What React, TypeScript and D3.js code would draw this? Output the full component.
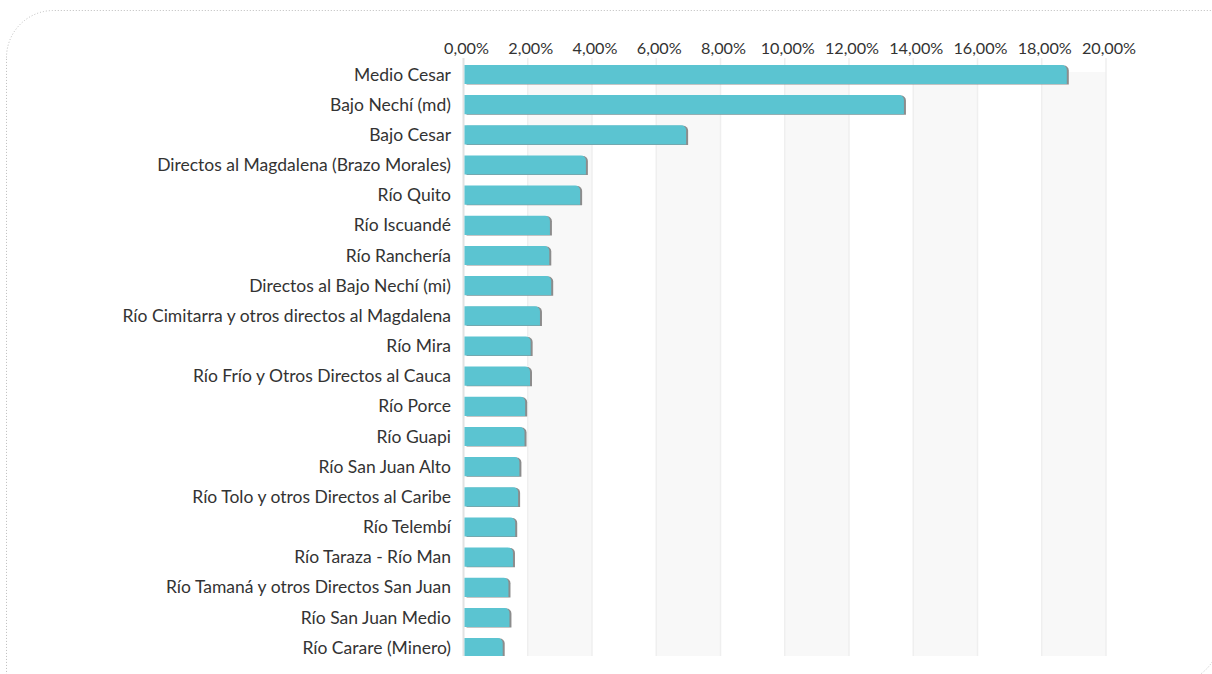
import React from "react";
import * as d3 from "d3";

const categories = [
  "Medio Cesar",
  "Bajo Nechí (md)",
  "Bajo Cesar",
  "Directos al Magdalena (Brazo Morales)",
  "Río Quito",
  "Río Iscuandé",
  "Río Ranchería",
  "Directos al Bajo Nechí (mi)",
  "Río Cimitarra y otros directos al Magdalena",
  "Río Mira",
  "Río Frío y Otros Directos al Cauca",
  "Río Porce",
  "Río Guapi",
  "Río San Juan Alto",
  "Río Tolo y otros Directos al Caribe",
  "Río Telembí",
  "Río Taraza - Río Man",
  "Río Tamaná y otros Directos San Juan",
  "Río San Juan Medio",
  "Río Carare (Minero)",
];

const values = [
  18.78, 13.71, 6.93, 3.81, 3.63, 2.69, 2.67, 2.73, 2.38, 2.09, 2.07, 1.92,
  1.9, 1.74, 1.7, 1.61, 1.54, 1.4, 1.43, 1.22,
];

const ticks = [0, 2, 4, 6, 8, 10, 12, 14, 16, 18, 20];

const W = 1212;
const H = 674;

export default function App() {
  const x = d3.scaleLinear().domain([0, 20]).range([463.5, 1106]);
  const y = d3
    .scaleBand<string>()
    .domain(categories)
    .range([59.5, 662.7])
    .paddingInner(0.365)
    .paddingOuter(0.18);
  const plotTop = 58;
  const plotBottom = 656;
  const fmt = (v: number) => v.toFixed(2).replace(".", ",") + "%";
  const font = "Lato, 'Open Sans', sans-serif";

  const bx = 6.5,
    by = 10.5,
    bR = 1220,
    bB = 683,
    r = 47;
  const borderPath = `M${bx},${by + r} A${r},${r} 0 0 1 ${bx + r},${by} L${bR},${by} L${bR},${bB - r} A${r},${r} 0 0 1 ${bR - r},${bB} L${bx},${bB} Z`;

  const bands = ticks.slice(0, -1).filter((_, i) => i % 2 === 1);

  return (
    <div style={{ position: "fixed", left: 0, top: 0, width: W, height: H }}>
      <svg width={W} height={H} style={{ display: "block" }}>
        <defs>
          <clipPath id="plotClip">
            <rect x={0} y={plotTop} width={W} height={plotBottom - plotTop} />
          </clipPath>
        </defs>
        <rect x={0} y={0} width={W} height={H} fill="#fff" />
        <path
          d={borderPath}
          fill="none"
          stroke="#bdbdbd"
          strokeWidth={1}
          strokeDasharray="1,2"
        />
        <g clipPath="url(#plotClip)">
          {bands.map((t) => (
            <rect
              key={"b" + t}
              x={x(t)}
              y={72}
              width={x(t + 2) - x(t)}
              height={plotBottom - 72}
              fill="#f8f8f8"
            />
          ))}
          {ticks.map((t) => (
            <line
              key={"g" + t}
              x1={x(t)}
              x2={x(t)}
              y1={plotTop}
              y2={plotBottom}
              stroke={t === 0 ? "#e2e2e2" : "#efefef"}
              strokeWidth={t === 0 ? 2 : 1.5}
            />
          ))}
          {categories.map((c, i) => {
            const y0 = y(c)!;
            const bh = y.bandwidth();
            const x0 = x(0) + 1;
            const x1 = x(values[i]);
            const rr = Math.min(5, (x1 - x0) / 2);
            const path = (dx: number, dy: number) =>
              `M${x0 + dx},${y0 + dy} L${x1 - rr + dx},${y0 + dy} A${rr},${rr} 0 0 1 ${x1 + dx},${y0 + rr + dy} L${x1 + dx},${y0 + bh + dy} L${x0 + dx},${y0 + bh + dy} Z`;
            return (
              <g key={c}>
                <path d={path(2, 0.5)} fill="#8c8c8c" />
                <path d={path(0, 0)} fill="#5bc4d1" />
              </g>
            );
          })}
        </g>
        {ticks.map((t) => (
          <text
            key={"t" + t}
            x={x(t) + 3}
            y={54}
            textAnchor="middle"
            fontFamily={font}
            fontSize={16.2}
            fill="#333"
          >
            {fmt(t)}
          </text>
        ))}
        {categories.map((c) => (
          <text
            key={"l" + c}
            x={451}
            y={y(c)! + y.bandwidth() / 2}
            dy="0.35em"
            textAnchor="end"
            fontFamily={font}
            fontSize={17.5}
            fill="#333"
          >
            {c}
          </text>
        ))}
      </svg>
    </div>
  );
}
